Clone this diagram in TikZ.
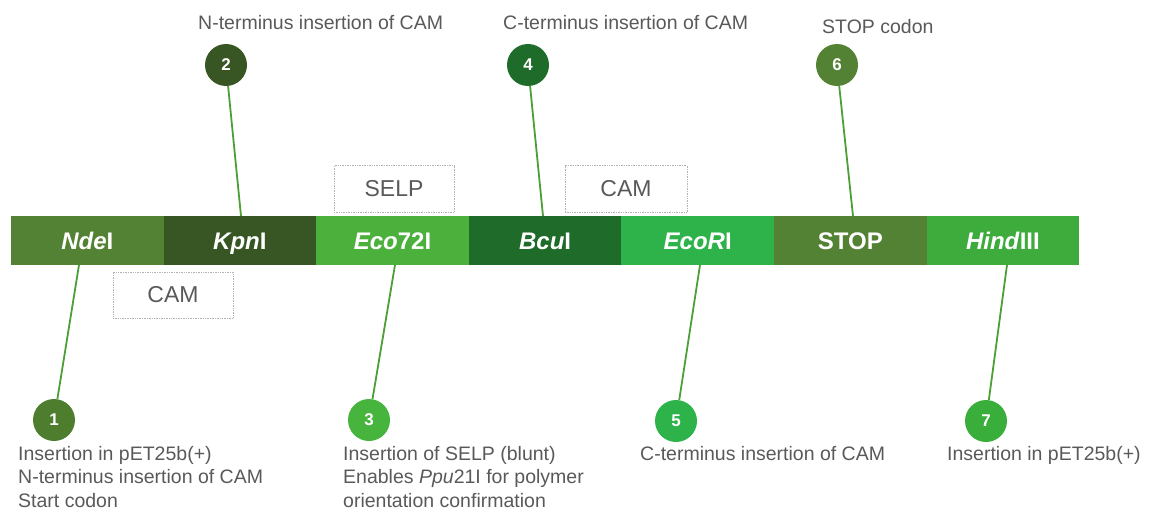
\documentclass[tikz,border=0pt]{standalone}
\usepackage{fontspec}
\setmainfont{Liberation Sans}
\definecolor{gA}{HTML}{548235}
\definecolor{gB}{HTML}{375623}
\definecolor{gC}{HTML}{4CB03C}
\definecolor{gD}{HTML}{1E6B2A}
\definecolor{gE}{HTML}{2DB34A}
\definecolor{gF}{HTML}{548235}
\definecolor{gG}{HTML}{3DAC3D}
\definecolor{cA}{HTML}{4E7D2E}
\definecolor{cC}{HTML}{47B43E}
\definecolor{cG}{HTML}{3AAE3A}
\definecolor{lineg}{HTML}{4C9E36}
\definecolor{txt}{HTML}{595959}
\begin{document}
\begin{tikzpicture}[x=1pt,y=-1pt,
  seg/.style={rectangle, inner sep=0pt, minimum width=152.6pt, minimum height=49pt, text=white,
    font=\bfseries\fontsize{24}{28}\selectfont, text height=17pt, text depth=0pt},
  num/.style={circle, inner sep=0pt, minimum size=42pt, text=white,
    font=\bfseries\fontsize{17}{20}\selectfont},
  dbox/.style={rectangle, draw=gray!60, densely dotted, line width=0.7pt, inner sep=0pt,
    text=txt, font=\fontsize{23}{27}\selectfont},
  lbl/.style={inner sep=0pt, text=txt, align=left, font=\fontsize{19.5}{23.5}\selectfont},
  conn/.style={draw=lineg, line width=1.8pt}
]
\useasboundingbox (0,0) rectangle (1151,522);
% bar segments
\node[seg, fill=gA] (s1) at (87.3,240.5) {\textit{Nde}I};
\node[seg, fill=gB] (s2) at (239.9,240.5) {\textit{Kpn}I};
\node[seg, fill=gC] (s3) at (392.5,240.5) {\textit{Eco}72I};
\node[seg, fill=gD] (s4) at (545.1,240.5) {\textit{Bcu}I};
\node[seg, fill=gE] (s5) at (697.7,240.5) {\textit{Eco}\textit{R}I};
\node[seg, fill=gF] (s6) at (850.3,240.5) {STOP};
\node[seg, fill=gG] (s7) at (1002.9,240.5) {\textit{Hind}III};
% dotted boxes
\node[dbox, minimum width=120pt, minimum height=47pt] (b1) at (394,189) {SELP};
\node[dbox, minimum width=122pt, minimum height=47pt] (b2) at (626,189) {CAM};
\node[dbox, minimum width=120pt, minimum height=46pt] (b3) at (173,295) {CAM};
% circles
\node[num, fill=cA] (c1) at (54,420) {1};
\node[num, fill=gB] (c2) at (226,65) {2};
\node[num, fill=cC] (c3) at (369,420) {3};
\node[num, fill=gD] (c4) at (528,65) {4};
\node[num, fill=gE] (c5) at (676,421) {5};
\node[num, fill=gF] (c6) at (837,65) {6};
\node[num, fill=cG] (c7) at (986,421) {7};
% anchor points on bar
\coordinate (p1) at (79,265);
\coordinate (p2) at (241,216);
\coordinate (p3) at (395,265);
\coordinate (p4) at (543,216);
\coordinate (p5) at (700,265);
\coordinate (p6) at (853,216);
\coordinate (p7) at (1007,265);
\draw[conn] (c1) -- (p1);
\draw[conn] (c2) -- (p2);
\draw[conn] (c3) -- (p3);
\draw[conn] (c4) -- (p4);
\draw[conn] (c5) -- (p5);
\draw[conn] (c6) -- (p6);
\draw[conn] (c7) -- (p7);
% labels
\node[lbl, anchor=base west] (t2) at (198,29) {N-terminus insertion of CAM};
\node[lbl, anchor=base west] (t4) at (503,29) {C-terminus insertion of CAM};
\node[lbl, anchor=base west] (t6) at (822,33) {STOP codon};
\node[lbl, anchor=north west] (t1) at (18,446) {Insertion in pET25b(+)\\N-terminus insertion of CAM\\Start codon};
\node[lbl, anchor=north west] (t3) at (343,446) {Insertion of SELP (blunt)\\Enables \textit{Ppu}21I for polymer\\orientation confirmation};
\node[lbl, anchor=north west] (t5) at (640,446) {C-terminus insertion of CAM};
\node[lbl, anchor=north west] (t7) at (947,446) {Insertion in pET25b(+)};
\end{tikzpicture}
\end{document}
